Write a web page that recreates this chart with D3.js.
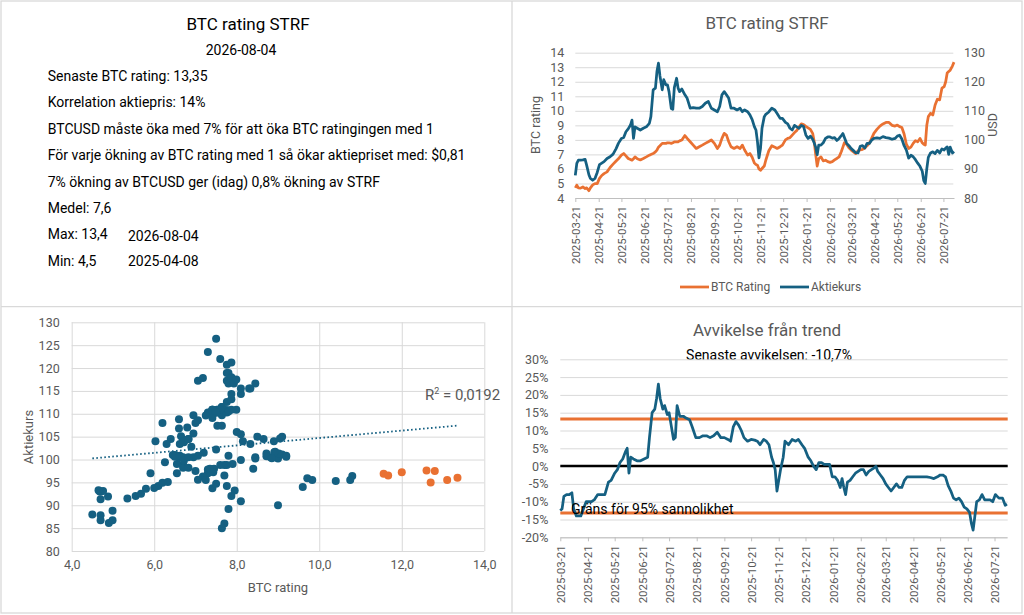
<!DOCTYPE html>
<html lang="sv">
<head>
<meta charset="utf-8">
<title>BTC rating STRF</title>
<script src="https://cdn.jsdelivr.net/npm/d3@7"></script>
<style>
  body { margin: 0; background: #fff; }
  svg text { font-family: Roboto, "Liberation Sans", sans-serif; }
</style>
</head>
<body>
<script>
// shared dates for all three series
var dates = [
  "2025-03-21","2025-03-23","2025-03-25","2025-03-28","2025-03-31","2025-04-03","2025-04-05","2025-04-08","2025-04-10","2025-04-13",
  "2025-04-16","2025-04-19","2025-04-22","2025-04-25","2025-04-28","2025-05-02","2025-05-06","2025-05-10","2025-05-14","2025-05-17",
  "2025-05-21","2025-05-24","2025-05-27","2025-05-30","2025-06-02","2025-06-04","2025-06-06","2025-06-08","2025-06-11","2025-06-15",
  "2025-06-19","2025-06-23","2025-06-27","2025-06-29","2025-07-02","2025-07-05","2025-07-07","2025-07-09","2025-07-11","2025-07-14",
  "2025-07-16","2025-07-19","2025-07-21","2025-07-23","2025-07-26","2025-07-28","2025-07-30","2025-08-02","2025-08-04","2025-08-06",
  "2025-08-09","2025-08-13","2025-08-16","2025-08-20","2025-08-24","2025-08-28","2025-09-01","2025-09-05","2025-09-09","2025-09-13",
  "2025-09-17","2025-09-21","2025-09-25","2025-09-28","2025-10-01","2025-10-04","2025-10-07","2025-10-10","2025-10-13","2025-10-17",
  "2025-10-21","2025-10-25","2025-10-28","2025-10-31","2025-11-04","2025-11-07","2025-11-10","2025-11-13","2025-11-15","2025-11-17",
  "2025-11-19","2025-11-21","2025-11-23","2025-11-26","2025-11-28","2025-12-02","2025-12-06","2025-12-10","2025-12-13","2025-12-17",
  "2025-12-20","2025-12-24","2025-12-27","2025-12-30","2026-01-02","2026-01-05","2026-01-08","2026-01-11","2026-01-14","2026-01-17",
  "2026-01-20","2026-01-23","2026-01-26","2026-01-29","2026-01-31","2026-02-02","2026-02-04","2026-02-06","2026-02-09","2026-02-12",
  "2026-02-15","2026-02-18","2026-02-21","2026-02-24","2026-02-27","2026-03-02","2026-03-05","2026-03-08","2026-03-10","2026-03-12",
  "2026-03-15","2026-03-18","2026-03-21","2026-03-24","2026-03-27","2026-03-30","2026-04-02","2026-04-05","2026-04-08","2026-04-11",
  "2026-04-14","2026-04-17","2026-04-20","2026-04-24","2026-04-28","2026-05-02","2026-05-06","2026-05-10","2026-05-14","2026-05-18",
  "2026-05-21","2026-05-24","2026-05-27","2026-05-30","2026-06-02","2026-06-05","2026-06-08","2026-06-11","2026-06-14","2026-06-17",
  "2026-06-20","2026-06-23","2026-06-25","2026-06-27","2026-06-29","2026-07-01","2026-07-04","2026-07-07","2026-07-10","2026-07-13",
  "2026-07-16","2026-07-19","2026-07-22","2026-07-24","2026-07-26","2026-07-28","2026-07-30","2026-08-02","2026-08-04"
];

var btcRating = [
  4.70, 4.88, 4.70, 4.68, 4.76, 4.65, 4.70, 4.50, 4.70, 4.90,
  4.99, 4.99, 5.35, 5.55, 5.68, 5.80, 6.10, 6.33, 6.55, 6.70,
  6.95, 7.06, 6.90, 6.72, 6.65, 6.60, 6.70, 6.83, 6.70, 6.62,
  6.72, 6.83, 6.95, 7.00, 7.06, 7.18, 7.30, 7.50, 7.60, 7.76,
  7.76, 7.76, 7.80, 7.80, 7.76, 7.80, 7.87, 7.87, 7.87, 7.93,
  7.99, 8.30, 8.10, 7.87, 7.64, 7.41, 7.53, 7.64, 7.76, 7.87,
  7.99, 7.76, 7.41, 7.64, 8.10, 8.45, 8.33, 7.87, 7.53, 7.41,
  7.53, 7.41, 7.64, 7.30, 6.95, 7.06, 6.80, 6.40, 6.30, 6.26,
  6.00, 5.91, 6.03, 6.20, 6.60, 7.25, 7.60, 7.50, 7.41, 7.53,
  7.64, 8.00, 8.10, 8.15, 8.33, 8.50, 8.65, 8.90, 9.10, 9.05,
  8.93, 8.82, 8.72, 8.45, 7.90, 7.00, 6.20, 6.70, 6.83, 6.55,
  6.60, 6.50, 6.45, 6.50, 6.62, 6.72, 6.83, 7.20, 7.50, 7.80,
  7.70, 7.45, 7.30, 7.18, 7.06, 7.25, 7.30, 7.35, 7.43, 7.60,
  7.76, 8.10, 8.45, 8.72, 8.95, 9.10, 9.20, 9.20, 9.00, 8.95,
  9.02, 8.91, 8.85, 8.40, 7.70, 7.41, 7.50, 7.76, 7.95, 7.87,
  8.10, 7.80, 7.70, 7.64, 9.00, 9.60, 9.83, 9.71, 10.40, 10.80,
  10.75, 11.56, 11.67, 12.00, 12.60, 12.70, 12.80, 13.10, 13.35
];

var aktiekurs = [
  87.8, 91.9, 93.0, 93.0, 93.1, 93.3, 91.3, 88.0, 86.7, 86.1,
  86.7, 88.8, 91.5, 92.0, 92.5, 93.6, 94.2, 95.1, 97.0, 98.8,
  100.5, 100.8, 102.8, 103.8, 105.1, 106.8, 100.5, 104.5, 104.0, 103.4,
  104.0, 104.5, 105.7, 108.0, 117.2, 117.8, 123.5, 126.4, 122.0, 117.2,
  120.7, 118.9, 118.9, 116.6, 110.8, 110.5, 118.0, 121.2, 117.8, 116.6,
  117.5, 115.5, 114.3, 110.9, 111.1, 110.9, 110.9, 111.5, 112.6, 113.2,
  110.9, 110.3, 109.7, 111.5, 115.5, 116.6, 115.5, 114.3, 110.9, 110.9,
  110.3, 110.9, 109.7, 110.3, 109.7, 108.6, 107.0, 104.5, 103.4, 99.4,
  93.8, 97.0, 104.0, 108.0, 108.8, 109.6, 110.9, 110.3, 109.1, 107.4,
  107.4, 106.0, 105.5, 104.0, 103.4, 105.0, 104.5, 104.0, 105.0, 104.6,
  101.7, 100.5, 101.3, 100.2, 99.0, 97.5, 94.9, 98.2, 98.2, 99.0,
  100.5, 101.0, 101.0, 100.6, 100.8, 99.8, 100.5, 101.5, 102.2, 100.8,
  98.8, 98.0, 97.0, 96.3, 95.6, 95.5, 97.8, 98.0, 97.2, 98.8,
  98.8, 99.9, 100.5, 100.7, 100.5, 101.1, 100.8, 100.6, 100.2, 100.5,
  101.3, 101.6, 100.3, 98.0, 96.5, 93.7, 94.7, 94.2, 93.2, 92.0,
  90.9, 89.2, 86.0, 85.0, 90.0, 94.0, 95.5, 95.9, 95.3, 96.4,
  95.5, 96.9, 96.5, 97.2, 97.6, 95.0, 97.5, 95.5, 96.0
];

// avvikelse från trend, procent
var avvikelse = [
  -12.5, -12, -8.5, -8, -8, -7.5, -12, -14, -14, -14,
  -12, -10, -10, -10, -9.5, -8, -8, -8, -4.5, -4,
  -2, -1, 1, 2, 4, 5, -2, 2.5, 2, 1.5,
  1.5, 2, 2.5, 8, 15, 16, 19, 23, 19, 16,
  17, 14.5, 15, 12, 7.5, 8, 17, 14, 14, 14,
  13.5, 13, 11, 8, 8, 8.5, 8.5, 8, 8.5, 9.5,
  8, 8, 7.5, 7, 11, 12.5, 11.5, 10, 8, 7,
  7.5, 7.3, 7, 6, 7.5, 7, 6, 2.5, 1, -1,
  -7, -4, -1, 2.5, 7, 6, 7.5, 7, 7.5, 6,
  5, 2.5, 1.5, 0, -1, 1, 1, 0.5, 0.5, 0.5,
  -3, -3, -4, -6, -3.5, -6, -8, -4.5, -4, -3,
  -2, -1.5, -1, -1, -2.5, -1.5, -1, -0.5, 0, -1.5,
  -2.5, -3.5, -5, -6, -7, -6, -5, -6, -6, -4,
  -3, -3, -3, -3, -3, -3, -3, -3.2, -3.5, -3,
  -2.5, -2.5, -3, -5.5, -7, -9, -9.5, -9, -10, -11.5,
  -12, -13, -16, -18, -14, -10, -9.5, -8, -9.5, -9.5,
  -9.5, -10, -8, -8.5, -9, -9, -9, -11, -10.7
];

var xTickLabels = [
  "2025-03-21","2025-04-21","2025-05-21","2025-06-21","2025-07-21","2025-08-21","2025-09-21","2025-10-21","2025-11-21",
  "2025-12-21","2026-01-21","2026-02-21","2026-03-21","2026-04-21","2026-05-21","2026-06-21","2026-07-21"
];

var infoTitle = "BTC rating STRF";
var infoDate = "2026-08-04";
var infoLines = [
  "Senaste BTC rating: 13,35",
  "Korrelation aktiepris: 14%",
  "BTCUSD måste öka med 7% för att öka BTC ratingingen med 1",
  "För varje ökning av BTC rating med 1 så ökar aktiepriset med: $0,81",
  "7% ökning av BTCUSD ger (idag) 0,8% ökning av STRF",
  "Medel: 7,6",
  "Max: 13,4",
  "Min: 4,5"
];
var maxDate = "2026-08-04";
var minDate = "2025-04-08";

var trendSlope = 0.81;
var trendIntercept = 96.6;
var rSquared = "0,0192";
var grans95 = 13.2;      // procent
var highlightLast = 8;   // senaste punkterna i orange

var BLUE = "#156082", ORANGE = "#E97132", GRID = "#D9D9D9", LABEL = "#595959";

var sv = d3.formatLocale({decimal: ",", thousands: " ", grouping: [3], currency: ["$", ""], minus: "-"});
var parse = d3.timeParse("%Y-%m-%d");
var fmtDate = d3.timeFormat("%Y-%m-%d");

var rows = dates.map(function(d, i) {
  return {date: parse(d), rating: btcRating[i], kurs: aktiekurs[i], avv: avvikelse[i] / 100};
});
var tickDates = xTickLabels.map(parse);

var svg = d3.select("body").append("svg").attr("width", 1024).attr("height", 615);
svg.append("rect").attr("width", 1024).attr("height", 615).attr("fill", "#fff");

function styleAxis(g, size) {
  g.attr("font-family", null).attr("font-size", size || 12);
  g.selectAll("text").attr("fill", LABEL);
  g.select(".domain").remove();
  g.selectAll(".tick line").attr("stroke", GRID);
}

function dateAxis(x, y) {
  var g = svg.append("g").attr("transform", "translate(0," + y + ")")
    .call(d3.axisBottom(x).tickValues(tickDates).tickFormat(fmtDate).tickSize(4).tickSizeOuter(0));
  g.attr("font-family", null).attr("font-size", 11.5);
  g.select(".domain").attr("stroke", "#BFBFBF");
  g.selectAll(".tick line").attr("stroke", "#BFBFBF");
  g.selectAll("text").attr("fill", LABEL).attr("transform", "rotate(-90)")
    .attr("text-anchor", "end").attr("x", -8).attr("y", 0).attr("dy", "0.35em");
  return g;
}

// ---------- panel 1: text ----------
svg.append("text").attr("x", 248).attr("y", 30).attr("text-anchor", "middle")
  .attr("font-size", 17).attr("fill", "#000").text(infoTitle);
svg.append("text").attr("x", 241).attr("y", 55).attr("text-anchor", "middle")
  .attr("font-size", 14).attr("fill", "#000").text(infoDate);
svg.selectAll("text.info").data(infoLines).enter().append("text")
  .attr("class", "info")
  .attr("x", 47.7)
  .attr("y", function(d, i) { return 81 + i * 26.4; })
  .attr("font-size", 14).attr("fill", "#000")
  .text(function(d) { return d; });
svg.append("text").attr("x", 128).attr("y", 81 + 6 * 26.4 + 2).attr("font-size", 14).text(maxDate);
svg.append("text").attr("x", 128).attr("y", 81 + 7 * 26.4).attr("font-size", 14).text(minDate);

// ---------- panel 2: BTC rating STRF ----------
var xTR = d3.scaleTime().domain([rows[0].date, rows[rows.length - 1].date]).range([575.3, 954]);
var yL = d3.scaleLinear().domain([4, 14]).range([198, 52.7]);
var yR = d3.scaleLinear().domain([80, 130]).range([198, 52.7]);

svg.append("text").attr("x", 767).attr("y", 29).attr("text-anchor", "middle")
  .attr("font-size", 17).attr("fill", LABEL).text("BTC rating STRF");

svg.append("g").attr("transform", "translate(575.3,0)")
  .call(d3.axisLeft(yL).ticks(10).tickSize(-378).tickPadding(11))
  .call(styleAxis, 12.5);
svg.append("g").attr("transform", "translate(952,0)")
  .call(d3.axisRight(yR).ticks(5).tickSize(0).tickPadding(12))
  .call(styleAxis, 12.5);
dateAxis(xTR, 198);

svg.append("text").attr("transform", "translate(540,125) rotate(-90)").attr("text-anchor", "middle")
  .attr("font-size", 12.5).attr("fill", LABEL).text("BTC rating");
svg.append("text").attr("transform", "translate(997,125) rotate(-90)").attr("text-anchor", "middle")
  .attr("font-size", 12.5).attr("fill", LABEL).text("USD");

svg.append("path").datum(rows).attr("fill", "none").attr("stroke", ORANGE).attr("stroke-width", 2.75)
  .attr("stroke-linejoin", "round")
  .attr("d", d3.line().x(function(d) { return xTR(d.date); }).y(function(d) { return yL(d.rating); }));
svg.append("path").datum(rows).attr("fill", "none").attr("stroke", BLUE).attr("stroke-width", 2.75)
  .attr("stroke-linejoin", "round")
  .attr("d", d3.line().x(function(d) { return xTR(d.date); }).y(function(d) { return yR(d.kurs); }));

var legend = [{name: "BTC Rating", color: ORANGE, x: 680}, {name: "Aktiekurs", color: BLUE, x: 780}];
var lg = svg.selectAll("g.legend").data(legend).enter().append("g").attr("class", "legend")
  .attr("transform", function(d) { return "translate(" + d.x + ",287)"; });
lg.append("line").attr("x1", 0).attr("x2", 29).attr("stroke", function(d) { return d.color; }).attr("stroke-width", 2.75);
lg.append("text").attr("x", 31).attr("dy", "0.35em").attr("font-size", 12).attr("fill", LABEL)
  .text(function(d) { return d.name; });

// ---------- panel 3: scatter ----------
var xS = d3.scaleLinear().domain([4, 14]).range([71.7, 484.3]);
var yS = d3.scaleLinear().domain([80, 130]).range([551, 322.3]);

svg.append("g").attr("transform", "translate(71.7,0)")
  .call(d3.axisLeft(yS).ticks(10).tickSize(-412.6).tickPadding(12))
  .call(styleAxis, 12.5);
svg.append("g").attr("transform", "translate(0,551)")
  .call(d3.axisBottom(xS).ticks(5).tickFormat(sv.format(",.1f")).tickSize(-228.7).tickPadding(9))
  .call(styleAxis, 12.5);

svg.append("text").attr("x", 278).attr("y", 592).attr("text-anchor", "middle")
  .attr("font-size", 13).attr("fill", LABEL).text("BTC rating");
svg.append("text").attr("transform", "translate(28,437) rotate(-90)").attr("text-anchor", "middle")
  .attr("dy", "0.35em").attr("font-size", 13).attr("fill", LABEL).text("Aktiekurs");

var nHist = rows.length - highlightLast;
svg.append("g").selectAll("circle").data(rows).enter().append("circle")
  .attr("cx", function(d) { return xS(d.rating); })
  .attr("cy", function(d) { return yS(d.kurs); })
  .attr("r", 4)
  .attr("fill", function(d, i) { return i >= nHist ? ORANGE : BLUE; });

var rExt = d3.extent(rows, function(d) { return d.rating; });
svg.append("line")
  .attr("x1", xS(rExt[0])).attr("y1", yS(trendIntercept + trendSlope * rExt[0]))
  .attr("x2", xS(rExt[1])).attr("y2", yS(trendIntercept + trendSlope * rExt[1]))
  .attr("stroke", BLUE).attr("stroke-width", 1.8).attr("stroke-dasharray", "1.6,2.4");

var r2 = svg.append("text").attr("x", 425).attr("y", 400).attr("font-size", 15).attr("fill", LABEL);
r2.append("tspan").text("R");
r2.append("tspan").attr("dy", -6).attr("font-size", 9).text("2");
r2.append("tspan").attr("dy", 6).text(" = " + rSquared);

// ---------- panel 4: avvikelse från trend ----------
var xBR = d3.scaleTime().domain([rows[0].date, rows[rows.length - 1].date]).range([560.3, 1007]);
var yP = d3.scaleLinear().domain([-0.20, 0.30]).range([537.3, 359.3]);

svg.append("text").attr("x", 767).attr("y", 336).attr("text-anchor", "middle")
  .attr("font-size", 17).attr("fill", LABEL).text("Avvikelse från trend");
svg.append("text").attr("x", 769).attr("y", 360).attr("text-anchor", "middle")
  .attr("font-size", 14).attr("fill", "#000")
  .text("Senaste avvikelsen: " + sv.format(".1%")(rows[rows.length - 1].avv));

svg.append("g").attr("transform", "translate(560.3,0)")
  .call(d3.axisLeft(yP).ticks(10).tickFormat(sv.format(".0%")).tickSize(-447.4).tickPadding(12))
  .call(styleAxis, 12.5);
dateAxis(xBR, 537.3);

[grans95, -grans95].forEach(function(v) {
  svg.append("line").attr("x1", 560.3).attr("x2", 1007.7)
    .attr("y1", yP(v / 100)).attr("y2", yP(v / 100))
    .attr("stroke", ORANGE).attr("stroke-width", 3);
});
svg.append("line").attr("x1", 560.3).attr("x2", 1007.7).attr("y1", yP(0)).attr("y2", yP(0))
  .attr("stroke", "#000").attr("stroke-width", 2.5);

svg.append("path").datum(rows).attr("fill", "none").attr("stroke", BLUE).attr("stroke-width", 2.75)
  .attr("stroke-linejoin", "round")
  .attr("d", d3.line().x(function(d) { return xBR(d.date); }).y(function(d) { return yP(d.avv); }));

svg.append("text").attr("x", 571).attr("y", 513.5).attr("font-size", 14).attr("fill", "#000")
  .text("Gräns för 95% sannolikhet");

// ---------- panel borders ----------
svg.append("rect").attr("x", 1).attr("y", 1).attr("width", 1021).attr("height", 612)
  .attr("fill", "none").attr("stroke", GRID).attr("stroke-width", 1.3);
svg.append("line").attr("x1", 512).attr("x2", 512).attr("y1", 1).attr("y2", 613)
  .attr("stroke", GRID).attr("stroke-width", 1.3);
svg.append("line").attr("x1", 1).attr("x2", 1022).attr("y1", 306.7).attr("y2", 306.7)
  .attr("stroke", GRID).attr("stroke-width", 1.3);
</script>
</body>
</html>
